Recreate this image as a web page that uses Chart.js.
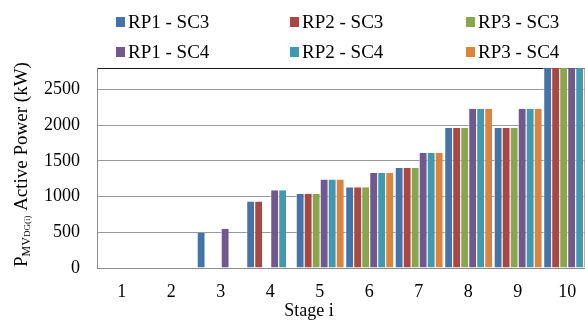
<!DOCTYPE html>
<html>
<head>
<meta charset="utf-8">
<script src="https://cdn.jsdelivr.net/npm/chart.js@4.4.1/dist/chart.umd.min.js"></script>
<style>
  html, body { margin: 0; padding: 0; background: #fff; overflow: hidden; }
  #wrap { width: 592px; height: 320px; position: relative; }
</style>
</head>
<body>
<div id="wrap"><canvas id="chart"></canvas></div>
<script>
// Data (kW)
const stages = ['1', '2', '3', '4', '5', '6', '7', '8', '9', '10'];
const seriesNames = ['RP1 - SC3', 'RP2 - SC3', 'RP3 - SC3', 'RP1 - SC4', 'RP2 - SC4', 'RP3 - SC4'];
const rp1sc3 = [0, 0, 490, 930, 1040, 1130, 1400, 1960, 1960, 2950];
const rp2sc3 = [0, 0, 0, 930, 1040, 1130, 1400, 1960, 1960, 2950];
const rp3sc3 = [0, 0, 0, 0, 1040, 1130, 1400, 1960, 1960, 2950];
const rp1sc4 = [0, 0, 550, 1090, 1240, 1330, 1610, 2230, 2230, 2950];
const rp2sc4 = [0, 0, 0, 1090, 1240, 1330, 1610, 2230, 2230, 2950];
const rp3sc4 = [0, 0, 0, 0, 1240, 1330, 1610, 2230, 2230, 2950];
const yTicks = [0, 500, 1000, 1500, 2000, 2500];
const yMax = 2800;

const colors = ['#4572A7', '#AA4643', '#89A54E', '#71588F', '#4198AF', '#DB843D'];
const serif = '"Liberation Serif", serif';

// Legend drawn as a 3 x 2 grid like the original
const gridLegend = {
  id: 'gridLegend',
  afterDraw(chart) {
    const ctx = chart.ctx;
    const colX = [116, 290, 466];
    const rowBase = [28, 58];
    ctx.save();
    ctx.font = 'normal normal 19px ' + serif;
    ctx.textBaseline = 'alphabetic';
    ctx.textAlign = 'left';
    chart.data.datasets.forEach((ds, i) => {
      const x = colX[i % 3];
      const base = rowBase[Math.floor(i / 3)];
      ctx.fillStyle = ds.backgroundColor;
      ctx.fillRect(x, base - 11, 9, 10);
      ctx.fillStyle = '#000';
      ctx.fillText(ds.label, x + 12, base);
    });
    ctx.restore();
  }
};

// Axis titles (y title has subscripts)
const axisTitles = {
  id: 'axisTitles',
  afterDraw(chart) {
    const ctx = chart.ctx;
    ctx.save();
    ctx.fillStyle = '#000';
    ctx.textBaseline = 'alphabetic';

    // x title
    ctx.font = 'normal normal 18px ' + serif;
    ctx.textAlign = 'center';
    ctx.fillText('Stage i', 309, 316);

    // y title, rotated, reading bottom to top
    ctx.translate(27, 267);
    ctx.rotate(-Math.PI / 2);
    ctx.textAlign = 'left';
    const parts = [
      { t: 'P', size: 19, dy: 0 },
      { t: 'MV', size: 12, dy: 3 },
      { t: 'DG(i)', size: 9, dy: 3 },
      { t: ' Active Power (kW)', size: 19, dy: 0 }
    ];
    let x = 0;
    parts.forEach(p => {
      ctx.font = 'normal normal ' + p.size + 'px ' + serif;
      ctx.fillText(p.t, x, p.dy);
      x += ctx.measureText(p.t).width;
    });
    ctx.restore();
  }
};

const seriesData = [rp1sc3, rp2sc3, rp3sc3, rp1sc4, rp2sc4, rp3sc4];

new Chart(document.getElementById('chart').getContext('2d'), {
  type: 'bar',
  data: {
    labels: stages,
    datasets: seriesData.map((d, i) => ({
      label: seriesNames[i],
      data: d,
      backgroundColor: colors[i],
      borderColor: 'rgba(255,255,255,0.75)',
      borderWidth: { left: 1, right: 0, top: 0, bottom: 0 },
      borderSkipped: false,
      categoryPercentage: 0.97,
      barPercentage: 1
    }))
  },
  options: {
    responsive: true,
    maintainAspectRatio: false,
    animation: false,
    layout: { padding: { top: 68, left: 0, right: 0, bottom: 0 } },
    plugins: {
      legend: { display: false },
      tooltip: { enabled: false }
    },
    scales: {
      x: {
        grid: { display: false },
        border: { color: '#8c8c8c', width: 1 },
        ticks: {
          color: '#000',
          padding: 5,
          font: { family: serif, size: 18 },
          maxRotation: 0
        },
        afterFit(scale) { scale.height = 52; }
      },
      y: {
        min: 0,
        max: yMax,
        // fixed tick list: labelled steps plus the unlabelled top edge
        afterBuildTicks(scale) {
          scale.ticks = yTicks.concat([yMax]).map(v => ({ value: v }));
        },
        grid: {
          drawTicks: false,
          color: ctx => (ctx.tick && ctx.tick.value === yMax ? '#1a1a1a' : '#9a9a9a'),
          lineWidth: 1
        },
        border: { color: '#8c8c8c', width: 1 },
        ticks: {
          color: '#000',
          padding: 17,
          font: { family: serif, size: 18 },
          callback: v => (yTicks.includes(v) ? String(v) : '')
        },
        afterFit(scale) { scale.width = 97; }
      }
    }
  },
  plugins: [gridLegend, axisTitles]
});
</script>
</body>
</html>
